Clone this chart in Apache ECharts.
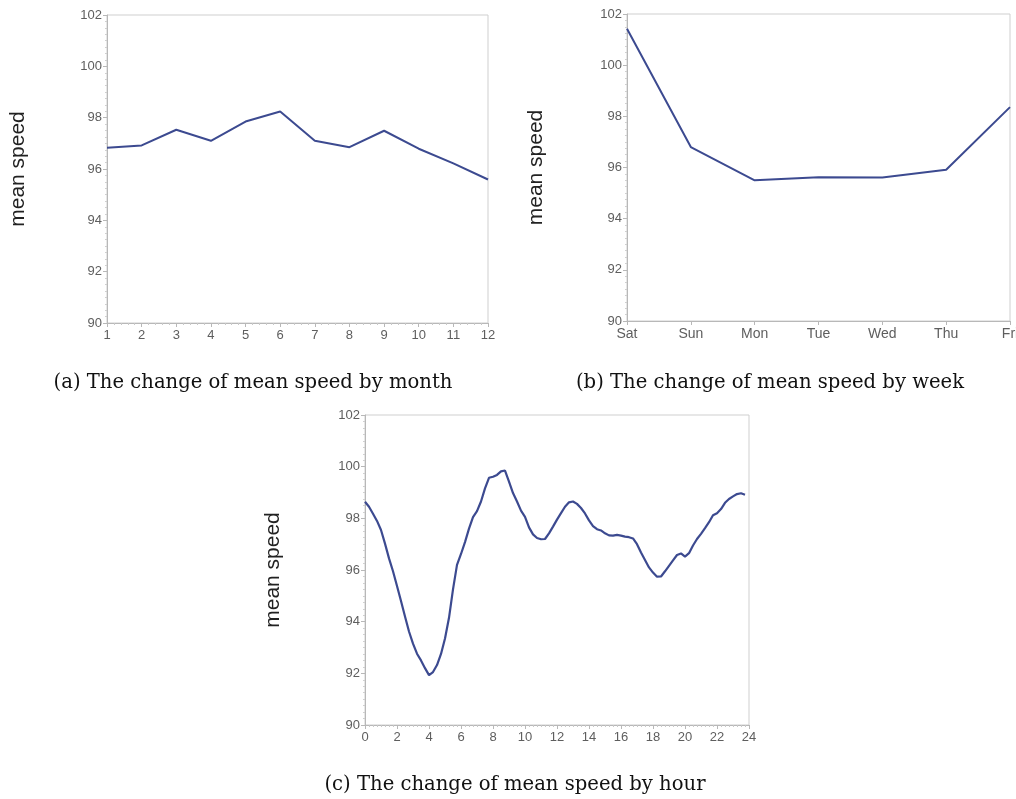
<!DOCTYPE html>
<html>
<head>
<meta charset="utf-8">
<title>Mean speed by month, weekday and hour</title>
<script src="https://cdn.jsdelivr.net/npm/echarts@6/dist/echarts.min.js"></script>
<style>
  html, body { margin: 0; padding: 0; background: #fff; }
  #chart { width: 1016px; height: 799px; }
</style>
</head>
<body>
<div id="chart"></div>
<script>
// ---- data ----
const months = [1, 2, 3, 4, 5, 6, 7, 8, 9, 10, 11, 12];
const monthSpeed = [96.83, 96.92, 97.53, 97.10, 97.85, 98.24, 97.10, 96.85, 97.49, 96.79, 96.22, 95.59];

const weekdays = ['Sat', 'Sun', 'Mon', 'Tue', 'Wed', 'Thu', 'Fri'];
const weekdaySpeed = [101.42, 96.80, 95.50, 95.62, 95.61, 95.91, 98.36];

// quarter-hour samples
const hours = [
  0, 0.25, 0.5, 0.75, 1, 1.25, 1.5, 1.75, 2, 2.25, 2.5, 2.75,
  3, 3.25, 3.5, 3.75, 4, 4.25, 4.5, 4.75, 5, 5.25, 5.5, 5.75,
  6, 6.25, 6.5, 6.75, 7, 7.25, 7.5, 7.75, 8, 8.25, 8.5, 8.75,
  9, 9.25, 9.5, 9.75, 10, 10.25, 10.5, 10.75, 11, 11.25, 11.5, 11.75,
  12, 12.25, 12.5, 12.75, 13, 13.25, 13.5, 13.75, 14, 14.25, 14.5, 14.75,
  15, 15.25, 15.5, 15.75, 16, 16.25, 16.5, 16.75, 17, 17.25, 17.5, 17.75,
  18, 18.25, 18.5, 18.75, 19, 19.25, 19.5, 19.75, 20, 20.25, 20.5, 20.75,
  21, 21.25, 21.5, 21.75, 22, 22.25, 22.5, 22.75, 23, 23.25, 23.5, 23.75
];
const hourSpeed = [
  98.64, 98.45, 98.18, 97.90, 97.55, 97.02, 96.45, 95.95, 95.38, 94.80, 94.20, 93.62,
  93.15, 92.76, 92.50, 92.20, 91.93, 92.05, 92.32, 92.75, 93.35, 94.15, 95.25, 96.20,
  96.62, 97.08, 97.60, 98.05, 98.28, 98.65, 99.16, 99.57, 99.61, 99.68, 99.82, 99.85,
  99.42, 98.98, 98.65, 98.30, 98.06, 97.65, 97.38, 97.24, 97.19, 97.20, 97.42, 97.68,
  97.95, 98.20, 98.45, 98.62, 98.65, 98.56, 98.40, 98.19, 97.92, 97.70, 97.58, 97.53,
  97.42, 97.34, 97.33, 97.36, 97.33, 97.29, 97.27, 97.22, 97.00, 96.68, 96.39, 96.10,
  95.90, 95.74, 95.75, 95.95, 96.16, 96.37, 96.58, 96.64, 96.52, 96.65, 96.95, 97.20,
  97.40, 97.62, 97.85, 98.12, 98.20, 98.36, 98.60, 98.75, 98.85, 98.94, 98.97, 98.91
];

const speedTicks = [90, 92, 94, 96, 98, 100, 102];
const hourTicks = [0, 2, 4, 6, 8, 10, 12, 14, 16, 18, 20, 22, 24];

const captions = [
  '(a) The change of mean speed by month',
  '(b) The change of mean speed by week',
  '(c) The change of mean speed by hour'
];
const yName = 'mean speed';

// ---- styling ----
const LINE = '#3c4a90';
const TICK_TXT = '#5e5e5e';
const AXIS = '#b8b8b8';
const FRAME = '#cfcfcf';
const SANS = 'Liberation Sans, Arial, sans-serif';
const SERIF = 'DejaVu Serif, serif';
const CAPTION_STYLE = { fontFamily: SERIF, fontWeight: 'normal', fontSize: 19.6, color: '#111' };

function speedAxis(gridIndex, nameGap) {
  return {
    type: 'value',
    gridIndex,
    min: speedTicks[0],
    max: speedTicks[speedTicks.length - 1],
    interval: speedTicks[1] - speedTicks[0],
    name: yName,
    nameLocation: 'middle',
    nameRotate: 90,
    nameGap,
    nameTextStyle: { fontFamily: SANS, fontSize: 21, color: '#222' },
    axisLine: { show: true, lineStyle: { color: AXIS, width: 1 } },
    axisTick: { show: true, length: 4, lineStyle: { color: AXIS } },
    minorTick: { show: true, splitNumber: 8, length: 2, lineStyle: { color: '#d0d0d0' } },
    splitLine: { show: false },
    axisLabel: { color: TICK_TXT, fontFamily: SANS, fontSize: 13, margin: 5 }
  };
}

function gridBox(left, top, width, height) {
  return {
    left, top, width, height,
    show: true, borderColor: FRAME, borderWidth: 1, backgroundColor: 'transparent',
    outerBoundsMode: 'none', containLabel: false
  };
}

const chart = echarts.init(document.getElementById('chart'), null, { renderer: 'canvas' });

chart.setOption({
  backgroundColor: '#fff',
  animation: false,
  grid: [
    gridBox(107, 15, 381, 308),
    gridBox(627, 14, 383, 307),
    gridBox(365, 415, 384, 310)
  ],
  xAxis: [
    {
      type: 'value', gridIndex: 0,
      min: months[0], max: months[months.length - 1], interval: 1,
      axisLine: { show: true, lineStyle: { color: AXIS } },
      axisTick: { show: true, length: 4, lineStyle: { color: AXIS } },
      minorTick: { show: true, splitNumber: 5, length: 2, lineStyle: { color: '#c8c8c8' } },
      splitLine: { show: false },
      axisLabel: { color: TICK_TXT, fontFamily: SANS, fontSize: 13, margin: 6 }
    },
    {
      type: 'category', gridIndex: 1, data: weekdays, boundaryGap: false,
      axisLine: { show: true, lineStyle: { color: AXIS } },
      axisTick: { show: true, length: 4, alignWithLabel: true, lineStyle: { color: AXIS } },
      splitLine: { show: false },
      axisLabel: { color: TICK_TXT, fontFamily: SANS, fontSize: 14, margin: 6, interval: 0 }
    },
    {
      type: 'value', gridIndex: 2,
      min: hourTicks[0], max: hourTicks[hourTicks.length - 1], interval: hourTicks[1] - hourTicks[0],
      axisLine: { show: true, lineStyle: { color: AXIS } },
      axisTick: { show: true, length: 4, lineStyle: { color: AXIS } },
      minorTick: { show: true, splitNumber: 8, length: 2, lineStyle: { color: '#c8c8c8' } },
      splitLine: { show: false },
      axisLabel: { color: TICK_TXT, fontFamily: SANS, fontSize: 13, margin: 6 }
    }
  ],
  yAxis: [speedAxis(0, 78), speedAxis(1, 80), speedAxis(2, 81)],
  title: [
    { text: captions[0], left: 248, top: 368, textAlign: 'center', textStyle: CAPTION_STYLE },
    { text: captions[1], left: 765, top: 368, textAlign: 'center', textStyle: CAPTION_STYLE },
    { text: captions[2], left: 510, top: 770, textAlign: 'center', textStyle: CAPTION_STYLE }
  ],
  series: [
    {
      type: 'line', xAxisIndex: 0, yAxisIndex: 0,
      data: months.map((m, i) => [m, monthSpeed[i]]),
      showSymbol: false, lineStyle: { color: LINE, width: 2 }
    },
    {
      type: 'line', xAxisIndex: 1, yAxisIndex: 1,
      data: weekdaySpeed,
      showSymbol: false, lineStyle: { color: LINE, width: 2 }
    },
    {
      type: 'line', xAxisIndex: 2, yAxisIndex: 2,
      data: hours.map((h, i) => [h, hourSpeed[i]]),
      showSymbol: false, lineStyle: { color: LINE, width: 2.2 }
    }
  ]
});
</script>
</body>
</html>
